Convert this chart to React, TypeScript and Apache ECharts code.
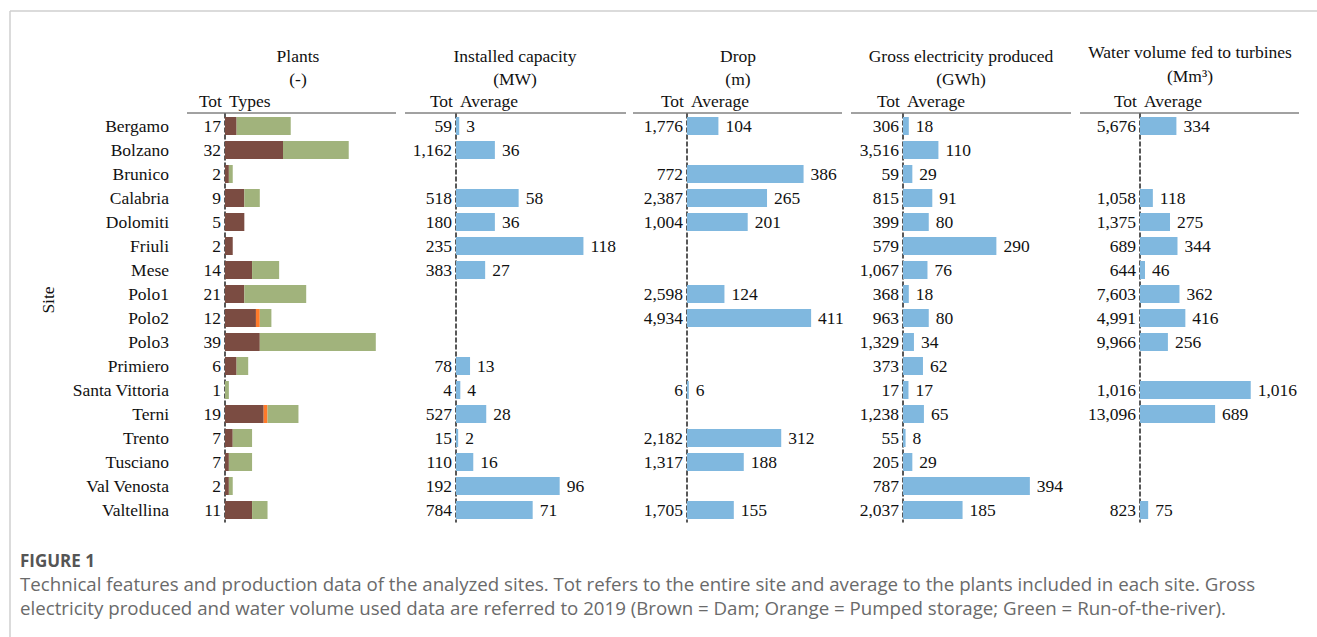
import React, { useEffect, useRef } from "react";
import * as echarts from "echarts";

const sites = ["Bergamo", "Bolzano", "Brunico", "Calabria", "Dolomiti", "Friuli", "Mese", "Polo1", "Polo2", "Polo3", "Primiero", "Santa Vittoria", "Terni", "Trento", "Tusciano", "Val Venosta", "Valtellina"];
const plantsTot = [17, 32, 2, 9, 5, 2, 14, 21, 12, 39, 6, 1, 19, 7, 7, 2, 11];
const plantsDam = [3, 15, 1, 5, 5, 2, 7, 5, 8, 9, 3, 0, 10, 2, 1, 1, 7];
const plantsPumped = [0, 0, 0, 0, 0, 0, 0, 0, 1, 0, 0, 0, 1, 0, 0, 0, 0];
const plantsRor = [14, 17, 1, 4, 0, 0, 7, 16, 3, 30, 3, 1, 8, 5, 6, 1, 4];
const capTot = [59, 1162, null, 518, 180, 235, 383, null, null, null, 78, 4, 527, 15, 110, 192, 784];
const capAvg = [3, 36, null, 58, 36, 118, 27, null, null, null, 13, 4, 28, 2, 16, 96, 71];
const dropTot = [1776, null, 772, 2387, 1004, null, null, 2598, 4934, null, null, 6, null, 2182, 1317, null, 1705];
const dropAvg = [104, null, 386, 265, 201, null, null, 124, 411, null, null, 6, null, 312, 188, null, 155];
const grossTot = [306, 3516, 59, 815, 399, 579, 1067, 368, 963, 1329, 373, 17, 1238, 55, 205, 787, 2037];
const grossAvg = [18, 110, 29, 91, 80, 290, 76, 18, 80, 34, 62, 17, 65, 8, 29, 394, 185];
const waterTot = [5676, null, null, 1058, 1375, 689, 644, 7603, 4991, 9966, null, 1016, 13096, null, null, null, 823];
const waterAvg = [334, null, null, 118, 275, 344, 46, 362, 416, 256, null, 1016, 689, null, null, null, 75];

const panelTitles = ["Plants", "Installed capacity", "Drop", "Gross electricity produced", "Water volume fed to turbines"];
const panelUnits = ["(-)", "(MW)", "(m)", "(GWh)", "(Mm³)"];
const panelSub = ["Types", "Average", "Average", "Average", "Average"];

const SERIF = '"Liberation Serif", "Times New Roman", serif';
const SANS = '"Open Sans", "Noto Sans", sans-serif';
const FS = 17.5;

const fmt = (v: number | null) => (v === null || v === undefined ? "" : v.toLocaleString("en-US"));

// layout (pixels)
const TOP = 114;
const H = 408;
const panels = [
  { dash: 225, width: 174, max: 45, lineL: 187, lineR: 396, center: 298, ty: 56, uy: 79 },
  { dash: 456, width: 162, max: 150, lineL: 405, lineR: 626, center: 515, ty: 56, uy: 79 },
  { dash: 687, width: 151, max: 500, lineL: 633, lineR: 842, center: 738, ty: 56, uy: 79 },
  { dash: 903, width: 161, max: 500, lineL: 851, lineR: 1071, center: 961, ty: 56, uy: 79 },
  { dash: 1140, width: 163.5, max: 1500, lineL: 1080, lineR: 1299, center: 1190, ty: 52, uy: 76 },
];
const tots = [plantsTot, capTot, dropTot, grossTot, waterTot];
const avgs = [null, capAvg, dropAvg, grossAvg, waterAvg];

const BLUE = "#80b8df";
const BROWN = "#7b4c42";
const ORANGE = "#ff7a2a";
const GREEN = "#a1b37c";

export default function App() {
  const ref = useRef<HTMLDivElement>(null);
  useEffect(() => {
    if (!ref.current) return;
    const chart = echarts.init(ref.current, null, { renderer: "svg" });

    const grid: any[] = [];
    const xAxis: any[] = [];
    const yAxis: any[] = [];
    const series: any[] = [];
    const graphic: any[] = [];

    const txt = (text: string, x: number, y: number, align: string, extra: any = {}) => ({
      type: "text",
      x,
      y,
      silent: true,
      ...extra,
      style: {
        text,
        fontSize: FS,
        fontFamily: SERIF,
        fill: "#111",
        align,
        textAlign: align,
        verticalAlign: "middle",
        textVerticalAlign: "middle",
        ...(extra.style || {}),
      },
    });

    panels.forEach((p, i) => {
      grid.push({ left: p.dash, top: TOP, width: p.width, height: H, containLabel: false });
      xAxis.push({ gridIndex: i, type: "value", min: 0, max: p.max, show: false });
      const tot = tots[i];
      yAxis.push({
        gridIndex: i,
        type: "category",
        inverse: true,
        data: sites,
        position: "left",
        axisLine: { show: true, lineStyle: { color: "#222", width: 1.5, type: [4, 3] } },
        axisTick: { show: false },
        splitLine: { show: false },
        axisLabel: {
          interval: 0,
          margin: 4,
          fontSize: FS,
          fontFamily: SERIF,
          color: "#111",
          formatter: (_v: string, idx: number) => fmt(tot[idx]),
        },
      });
      graphic.push(txt(panelTitles[i], p.center, p.ty, "center"));
      graphic.push(txt(panelUnits[i], p.center, p.uy, "center"));
      graphic.push(txt("Tot", p.dash - 3, 101, "right"));
      graphic.push(txt(panelSub[i], p.dash + 4, 101, "left"));
      graphic.push({
        type: "line",
        silent: true,
        shape: { x1: p.lineL, y1: 113, x2: p.lineR, y2: 113 },
        style: { stroke: "#444", lineWidth: 1 },
      });
    });

    // site names axis on first grid
    yAxis.push({
      gridIndex: 0,
      type: "category",
      inverse: true,
      data: sites,
      position: "left",
      offset: 48,
      axisLine: { show: false },
      axisTick: { show: false },
      splitLine: { show: false },
      axisLabel: { interval: 0, margin: 8, fontSize: FS, fontFamily: SERIF, color: "#111" },
    });

    const nz = (arr: number[]) => arr.map((v) => (v === 0 ? null : v));
    const plantStack = [
      { name: "Dam", data: nz(plantsDam), color: BROWN },
      { name: "Pumped storage", data: nz(plantsPumped), color: ORANGE },
      { name: "Run-of-the-river", data: nz(plantsRor), color: GREEN },
    ];
    plantStack.forEach((s) => {
      series.push({
        type: "bar",
        name: s.name,
        xAxisIndex: 0,
        yAxisIndex: 0,
        stack: "plants",
        barWidth: 18,
        data: s.data,
        itemStyle: { color: s.color },
        silent: true,
      });
    });

    for (let i = 1; i < 5; i++) {
      series.push({
        type: "bar",
        xAxisIndex: i,
        yAxisIndex: i,
        barWidth: 18,
        data: avgs[i],
        itemStyle: { color: BLUE },
        silent: true,
        label: {
          show: true,
          position: "right",
          distance: 7,
          fontSize: FS,
          fontFamily: SERIF,
          color: "#111",
          formatter: (p: any) => fmt(p.value),
        },
      });
    }

    // Site axis title
    graphic.push(txt("Site", 48, 300, "center", { rotation: Math.PI / 2 }));

    // frame
    graphic.push({ type: "line", silent: true, shape: { x1: 10, y1: 11, x2: 1317, y2: 11 }, style: { stroke: "#cfcfcf", lineWidth: 1.5 } });
    graphic.push({ type: "line", silent: true, shape: { x1: 10, y1: 11, x2: 10, y2: 637 }, style: { stroke: "#cfcfcf", lineWidth: 1.5 } });

    // caption
    graphic.push({
      type: "text",
      x: 20,
      y: 560,
      silent: true,
      style: { text: "FIGURE 1", fontSize: 17, fontWeight: "bold", fontFamily: SANS, fill: "#555", align: "left", textAlign: "left", verticalAlign: "middle", textVerticalAlign: "middle" },
    });
    const capStyle = {
      fontSize: 18.7,
      fontFamily: SANS,
      fill: "#6a6a6a",
      align: "left",
      textAlign: "left",
      verticalAlign: "middle",
      textVerticalAlign: "middle",
    };
    graphic.push({
      type: "text",
      x: 20,
      y: 583,
      silent: true,
      style: {
        text: "Technical features and production data of the analyzed sites. Tot refers to the entire site and average to the plants included in each site. Gross",
        ...capStyle,
      },
    });
    graphic.push({
      type: "text",
      x: 20,
      y: 607,
      silent: true,
      style: {
        text: "electricity produced and water volume used data are referred to 2019 (Brown = Dam; Orange = Pumped storage; Green = Run-of-the-river).",
        ...capStyle,
      },
    });

    chart.setOption({
      animation: false,
      backgroundColor: "#ffffff",
      grid,
      xAxis,
      yAxis,
      series,
      graphic,
    });
    return () => chart.dispose();
  }, []);
  return <div ref={ref} style={{ position: "absolute", left: 0, top: 0, width: 1317, height: 637 }} />;
}
